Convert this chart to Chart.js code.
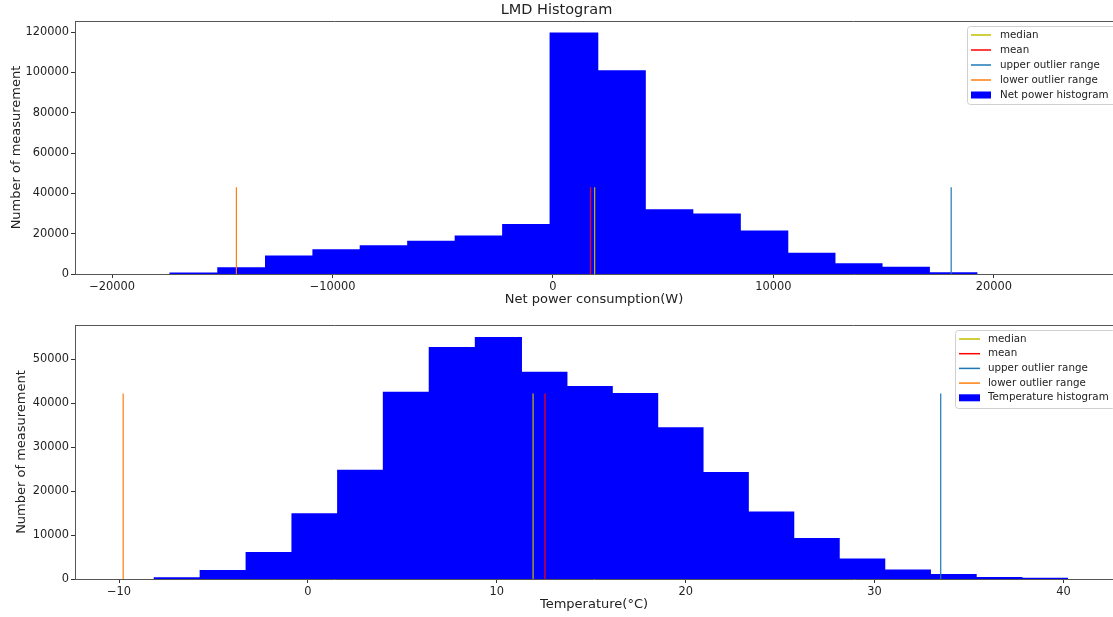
<!DOCTYPE html>
<html>
<head>
<meta charset="utf-8">
<title>LMD Histogram</title>
<script src="https://cdn.jsdelivr.net/npm/chart.js@4.4.0/dist/chart.umd.min.js"></script>
<style>
  body { margin: 0; background: #fff; }
  #wrap { position: relative; width: 1113px; height: 617px; overflow: hidden; }
  .panel { position: absolute; left: 0; width: 1113px; }
  canvas { display: block; }
</style>
</head>
<body>
<div id="wrap">
  <div class="panel" style="top:0;height:310px"><canvas id="powerChart" width="1113" height="310"></canvas></div>
  <div class="panel" style="top:310px;height:307px"><canvas id="tempChart" width="1113" height="307"></canvas></div>
</div>
<script>
// Net power histogram (W)
const powerEdges = [-17370, -15200, -13030, -10880, -8750, -6580, -4440, -2270, -140,
                    2040, 4170, 6350, 8480, 10660, 12780, 14920, 17060, 19230];
const powerCounts = [500, 3100, 8900, 12000, 14000, 16200, 18800, 24500, 119500,
                     100800, 31800, 29700, 21300, 10200, 5000, 3300, 600];
const powerMedian = 1890;
const powerMean = 1700;
const powerUpper = 18060;
const powerLower = -14360;
const powerMarkerTop = 43000;
const powerXTicks = [-20000, -10000, 0, 10000, 20000];
const powerYTicks = [0, 20000, 40000, 60000, 80000, 100000, 120000];

// Temperature histogram (°C)
const tempEdges = [-8.12, -5.71, -3.26, -0.84, 1.58, 3.99, 6.43, 8.86, 11.32, 13.70, 16.11,
                   18.51, 20.92, 23.30, 25.72, 28.12, 30.53, 32.95, 35.37, 37.80, 40.20];
const tempCounts = [250, 1900, 6000, 14800, 24700, 42500, 52650, 54930, 47000, 43800,
                    42200, 34400, 24200, 15250, 9200, 4550, 2000, 1000, 300, 150];
const tempMedian = 11.92;
const tempMean = 12.55;
const tempUpper = 33.5;
const tempLower = -9.78;
const tempMarkerTop = 42200;
const tempXTicks = [-10, 0, 10, 20, 30, 40];
const tempYTicks = [0, 10000, 20000, 30000, 40000, 50000];

const FONT = "'DejaVu Sans', sans-serif";
const TEXT = '#222';
const SPINE = '#555';

function fmt(v) {
    return v < 0 ? '\u2212' + Math.abs(v) : String(v);
}

function marker(label, x, top, color) {
    return {
        type: 'line',
        label: label,
        data: [{ x: x, y: 0 }, { x: x, y: top }],
        borderColor: color,
        borderWidth: 1.2,
        pointRadius: 0,
        fill: false
    };
}

function histogram(label, edges, counts) {
    return {
        type: 'bar',
        label: label,
        data: counts.map((c, i) => ({ x: (edges[i] + edges[i + 1]) / 2, y: c })),
        backgroundColor: '#0000ff',
        borderWidth: 0,
        inflateAmount: 0.6,
        barThickness: 'flex',
        barPercentage: 1,
        categoryPercentage: 1
    };
}

// top spine line (matplotlib style frame)
const topSpine = {
    id: 'topSpine',
    afterDraw(chart) {
        const { ctx, chartArea } = chart;
        ctx.save();
        ctx.strokeStyle = SPINE;
        ctx.lineWidth = 1;
        ctx.beginPath();
        ctx.moveTo(chartArea.left, Math.round(chartArea.top) + 0.5);
        ctx.lineTo(chartArea.right, Math.round(chartArea.top) + 0.5);
        ctx.stroke();
        ctx.restore();
    }
};

// legend box drawn inside the plot area, upper right
const boxLegend = {
    id: 'boxLegend',
    afterDraw(chart, args, opts) {
        const ctx = chart.ctx;
        ctx.save();
        ctx.fillStyle = 'rgba(255,255,255,0.85)';
        ctx.strokeStyle = '#d0d0d0';
        ctx.lineWidth = 1;
        ctx.beginPath();
        ctx.roundRect(opts.x + 0.5, opts.y + 0.5, opts.w, opts.h, 3);
        ctx.fill();
        ctx.stroke();
        ctx.font = opts.fontSize + 'px ' + FONT;
        ctx.textBaseline = 'middle';
        chart.data.datasets.forEach((ds, i) => {
            const y = opts.rowTop + i * opts.rowStep;
            if (ds.type === 'line') {
                ctx.strokeStyle = ds.borderColor;
                ctx.lineWidth = 1.5;
                ctx.beginPath();
                ctx.moveTo(opts.handleX, y);
                ctx.lineTo(opts.handleX + opts.handleW, y);
                ctx.stroke();
            } else {
                ctx.fillStyle = ds.backgroundColor;
                ctx.fillRect(opts.handleX, y - 3.5, opts.handleW, 7);
            }
            ctx.fillStyle = TEXT;
            ctx.fillText(ds.label, opts.textX, y);
        });
        ctx.restore();
    }
};

function buildChart(id, s) {
    return new Chart(document.getElementById(id), {
        type: 'bar',
        data: {
            datasets: [
                marker('median', s.median, s.markerTop, '#bfbf00'),
                marker('mean', s.mean, s.markerTop, '#ff0000'),
                marker('upper outlier range', s.upper, s.markerTop, '#1f77b4'),
                marker('lower outlier range', s.lower, s.markerTop, '#ff7f0e'),
                histogram(s.histLabel, s.edges, s.counts)
            ]
        },
        options: {
            responsive: false,
            animation: false,
            events: [],
            layout: { padding: { top: s.padTop, left: 0, right: 0, bottom: 0 } },
            scales: {
                x: {
                    type: 'linear',
                    min: s.xMin,
                    max: s.xMax,
                    offset: false,
                    afterBuildTicks: sc => { sc.ticks = s.xTicks.map(v => ({ value: v })); },
                    afterFit: sc => { sc.height = s.xHeight; },
                    grid: { display: true, offset: false, drawOnChartArea: false, drawTicks: true, tickLength: 4, color: '#333' },
                    border: { display: true, color: SPINE, width: 1 },
                    ticks: {
                        autoSkip: false, maxRotation: 0, padding: 2, color: TEXT,
                        font: { family: FONT, size: 11.4 },
                        callback: v => fmt(v)
                    },
                    title: {
                        display: true, text: s.xTitle, color: TEXT,
                        font: { family: FONT, size: 13 },
                        padding: { top: 0, bottom: s.xTitlePad }
                    }
                },
                y: {
                    min: 0,
                    max: s.yMax,
                    afterBuildTicks: sc => { sc.ticks = s.yTicks.map(v => ({ value: v })); },
                    afterFit: sc => { sc.width = 75; },
                    grid: { display: true, offset: false, drawOnChartArea: false, drawTicks: true, tickLength: 4, color: '#333' },
                    border: { display: true, color: SPINE, width: 1 },
                    ticks: {
                        autoSkip: false, padding: 2, color: TEXT,
                        font: { family: FONT, size: 11.4 },
                        callback: v => fmt(v)
                    },
                    title: {
                        display: true, text: 'Number of measurement', color: TEXT,
                        font: { family: FONT, size: 13 },
                        padding: { top: s.yTitlePad, bottom: 0 }
                    }
                }
            },
            plugins: {
                legend: { display: false },
                tooltip: { enabled: false },
                title: {
                    display: !!s.title,
                    text: s.title || '',
                    color: TEXT,
                    font: { family: FONT, size: 14.5, weight: 'normal' },
                    padding: { top: 2, bottom: 1.6 }
                },
                boxLegend: s.legend
            }
        },
        plugins: [topSpine, boxLegend]
    });
}

buildChart('powerChart', {
    title: 'LMD Histogram',
    edges: powerEdges, counts: powerCounts,
    median: powerMedian, mean: powerMean, upper: powerUpper, lower: powerLower,
    markerTop: powerMarkerTop,
    histLabel: 'Net power histogram',
    xTitle: 'Net power consumption(W)',
    xMin: -21680, xMax: 25400, xTicks: powerXTicks,
    yMax: 125460, yTicks: powerYTicks,
    padTop: 0, xHeight: 36, xTitlePad: 3, yTitlePad: 9,
    legend: { x: 967, y: 26, w: 150, h: 78, handleX: 971, handleW: 20, textX: 1000,
              rowTop: 35, rowStep: 15, fontSize: 10.3 }
});

buildChart('tempChart', {
    edges: tempEdges, counts: tempCounts,
    median: tempMedian, mean: tempMean, upper: tempUpper, lower: tempLower,
    markerTop: tempMarkerTop,
    histLabel: 'Temperature histogram',
    xTitle: 'Temperature(°C)',
    xMin: -12.33, xMax: 42.62, xTicks: tempXTicks,
    yMax: 57800, yTicks: tempYTicks,
    padTop: 15, xHeight: 38, xTitlePad: 5, yTitlePad: 14,
    legend: { x: 955, y: 20, w: 160, h: 78, handleX: 959, handleW: 21, textX: 988,
              rowTop: 29, rowStep: 14.7, fontSize: 10.3 }
});
</script>
</body>
</html>
